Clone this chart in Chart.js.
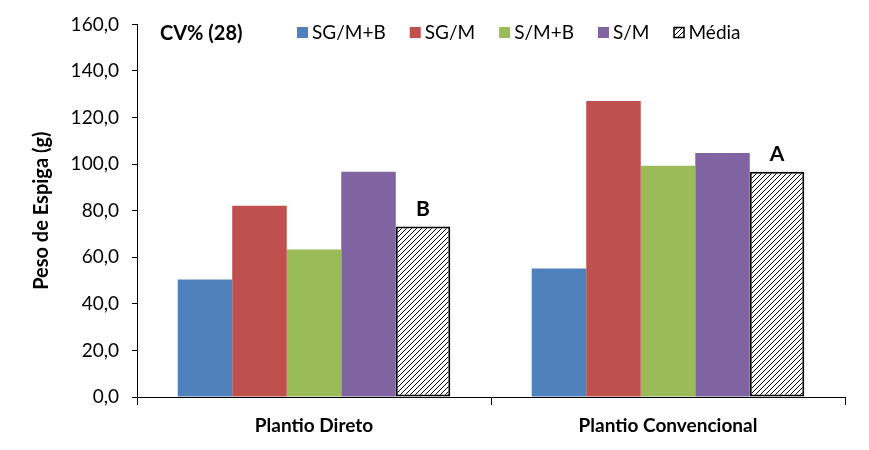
<!DOCTYPE html>
<html>
<head>
<meta charset="utf-8">
<script src="https://cdn.jsdelivr.net/npm/chart.js@4"></script>
<style>
html,body{margin:0;padding:0;background:#fff;}
#wrap{width:869px;height:450px;position:relative;}
</style>
</head>
<body>
<div id="wrap"><canvas id="c" width="869" height="450"></canvas></div>
<script>
const categories = ["Plantio Direto", "Plantio Convencional"];
const seriesNames = ["SG/M+B", "SG/M", "S/M+B", "S/M", "Média"];
const sgmb = [50.5, 55.2];
const sgm = [82.1, 127.1];
const smb = [63.3, 99.3];
const sm = [96.7, 104.8];
const media = [73.2, 96.7];
const mediaLetters = ["B", "A"];
const yTicks = [0, 20, 40, 60, 80, 100, 120, 140, 160];
const cvText = "CV% (28)";
const yTitle = "Peso de Espiga (g)";

const FONT = "Lato, 'Open Sans', sans-serif";

function hatch() {
  const s = 5;
  const p = document.createElement('canvas');
  p.width = s; p.height = s;
  const g = p.getContext('2d');
  g.fillStyle = '#fff'; g.fillRect(0, 0, s, s);
  g.strokeStyle = '#000'; g.lineWidth = 1;
  g.beginPath();
  g.moveTo(0, s); g.lineTo(s, 0);
  g.moveTo(-1, 1); g.lineTo(1, -1);
  g.moveTo(s - 1, s + 1); g.lineTo(s + 1, s - 1);
  g.stroke();
  return g.createPattern(p, 'repeat');
}
const ctx = document.getElementById('c').getContext('2d');
const hatchPattern = hatch();

const colors = ['#4F81BD', '#C0504D', '#9BBB59', '#8064A2', hatchPattern];
const values = [sgmb, sgm, smb, sm, media];

const datasets = values.map((v, i) => ({
  label: seriesNames[i],
  data: v,
  backgroundColor: colors[i],
  borderColor: i === 4 ? '#000' : colors[i],
  borderWidth: i === 4 ? 2 : 0,
  borderSkipped: i === 4 ? false : 'start',
  categoryPercentage: 0.77,
  barPercentage: 1.0
}));

const overlay = {
  id: 'overlay',
  afterDraw(chart) {
    const c = chart.ctx;
    c.save();
    // CV text
    c.fillStyle = '#000';
    c.font = "bold 20px " + FONT;
    c.textBaseline = 'middle';
    c.textAlign = 'left';
    c.fillText(cvText, 160, 34);
    // letters above Média
    const meta = chart.getDatasetMeta(4);
    c.font = "bold 21px " + FONT;
    c.textAlign = 'center';
    c.textBaseline = 'bottom';
    meta.data.forEach((bar, i) => {
      c.fillText(mediaLetters[i], bar.x, bar.y - 7);
    });
    // legend
    let x = 297;
    const y = 33;
    c.font = "19px " + FONT;
    c.textAlign = 'left';
    c.textBaseline = 'middle';
    chart.data.datasets.forEach((ds, i) => {
      c.fillStyle = ds.backgroundColor;
      c.fillRect(x, y - 6, 11, 11);
      if (i === 4) { c.strokeStyle = '#000'; c.lineWidth = 1.5; c.strokeRect(x + 0.5, y - 5.5, 10, 10); }
      c.fillStyle = '#000';
      c.fillText(ds.label, x + 15, y);
      x += 15 + c.measureText(ds.label).width + 24;
    });
    c.restore();
  }
};

new Chart(ctx, {
  type: 'bar',
  data: { labels: categories, datasets },
  options: {
    responsive: false,
    animation: false,
    layout: { padding: { top: 23, right: 24, left: 0, bottom: 0 } },
    plugins: { legend: { display: false }, tooltip: { enabled: false } },
    scales: {
      x: {
        grid: { drawOnChartArea: false, color: '#000', tickLength: 8, offset: true },
        border: { color: '#000', width: 1 },
        ticks: { color: '#000', font: { family: FONT, size: 19, weight: 'bold' }, padding: 9 },
        afterFit(s) { s.height = 53; }
      },
      y: {
        min: 0, max: 160,
        afterBuildTicks(s) { s.ticks = yTicks.map(v => ({ value: v })); },
        grid: { drawOnChartArea: false, color: '#000', tickLength: 5 },
        border: { color: '#000', width: 1 },
        ticks: {
          color: '#000', padding: 13,
          font: { family: FONT, size: 19 },
          callback: v => v.toFixed(1).replace('.', ',')
        },
        title: {
          display: true, text: yTitle, color: '#000',
          font: { family: FONT, size: 20, weight: 'bold' },
          padding: { top: 30, bottom: 0 }
        },
        afterFit(s) { s.width = 137; }
      }
    }
  },
  plugins: [overlay]
});
</script>
</body>
</html>
